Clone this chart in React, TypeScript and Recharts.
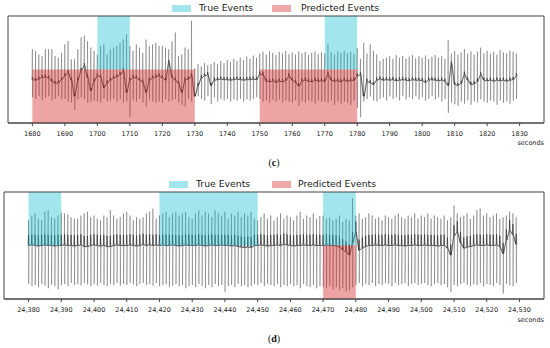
import { ComposedChart, Line, XAxis, YAxis, ReferenceArea } from 'recharts';

// panel (c): one beat per second starting at 1680
const startC = 1680;
const hiC = [
  0.38, 0.35, 0.28, 0.25, 0.38, 0.38, 0.38, 0.25, 0.22, 0.31,
  0.47, 0.53, 0.19, 0.19, 0.38, 0.6, 0.63, 0.53, 0.41, 0.35,
  0.28, 0.44, 0.47, 0.28, 0.38, 0.41, 0.44, 0.5, 0.56, 0.66,
  0.44, 0.35, 0.47, 0.41, 0.31, 0.56, 0.44, 0.47, 0.5, 0.44,
  0.44, 0.41, 0.38, 0.53, 0.69, 0.25, 0.28, 0.41, 0.38, 0.91,
  0.02, 0.1, 0.06, 0.12, 0.08, 0.1, 0.14, 0.1, 0.16, 0.12,
  0.18, 0.14, 0.2, 0.16, 0.22, 0.18, 0.24, 0.2, 0.26, 0.22,
  0.3, 0.33, 0.28, 0.34, 0.31, 0.27, 0.33, 0.3, 0.35, 0.29,
  0.32, 0.28, 0.34, 0.3, 0.33, 0.27, 0.31, 0.34, 0.29, 0.32,
  0.3, 0.48, 0.33, 0.28, 0.34, 0.31, 0.35, 0.3, 0.33, 0.29,
  0.4, 0.2, 0.5, 0.3, 0.47, 0.35, 0.28, 0.16, 0.2, 0.22,
  0.25, 0.2, 0.27, 0.22, 0.25, 0.2, 0.24, 0.27, 0.21, 0.25,
  0.22, 0.26, 0.2, 0.24, 0.27, 0.22, 0.25, 0.2, 0.55, 0.3,
  0.35, 0.28, 0.32, 0.38, 0.3, 0.34, 0.28, 0.33, 0.41, 0.3,
  0.35, 0.3, 0.33, 0.28, 0.36, 0.32, 0.3, 0.35, 0.33, 0.3,
];
const loC = [
  -0.52, -0.55, -0.5, -0.57, -0.53, -0.5, -0.58, -0.55, -0.5, -0.56,
  -0.55, -0.6, -0.62, -0.76, -0.55, -0.52, -0.56, -0.62, -0.6, -0.58,
  -0.6, -0.62, -0.55, -0.6, -0.58, -0.55, -0.6, -0.56, -0.62, -0.6,
  -0.89, -0.58, -0.6, -0.55, -0.62, -0.7, -0.56, -0.6, -0.62, -0.6,
  -0.62, -0.56, -0.6, -0.58, -0.55, -0.62, -0.66, -0.7, -0.55, -0.6,
  -0.45, -0.5, -0.55, -0.58, -0.5, -0.65, -0.52, -0.6, -0.55, -0.58,
  -0.55, -0.6, -0.56, -0.58, -0.55, -0.6, -0.56, -0.58, -0.55, -0.52,
  -0.55, -0.6, -0.58, -0.62, -0.57, -0.6, -0.56, -0.62, -0.58, -0.6,
  -0.62, -0.58, -0.68, -0.6, -0.62, -0.58, -0.6, -0.64, -0.58, -0.6,
  -0.6, -0.62, -0.58, -0.66, -0.6, -0.64, -0.6, -0.62, -0.66, -0.58,
  -0.72, -0.89, -0.6, -0.55, -0.5, -0.58, -0.6, -0.55, -0.52, -0.58,
  -0.5, -0.55, -0.52, -0.58, -0.5, -0.56, -0.52, -0.55, -0.5, -0.56,
  -0.52, -0.58, -0.55, -0.5, -0.56, -0.52, -0.6, -0.55, -0.81, -0.62,
  -0.65, -0.68, -0.6, -0.64, -0.58, -0.66, -0.6, -0.62, -0.56, -0.6,
  -0.62, -0.58, -0.6, -0.66, -0.58, -0.62, -0.6, -0.64, -0.58, -0.55,
];
const baseC = [
  -0.19, -0.2, -0.18, -0.15, -0.14, -0.16, -0.22, -0.26, -0.25, -0.19,
  -0.12, -0.06, -0.2, -0.5, -0.2, -0.02, 0.07, -0.15, -0.4, -0.22,
  -0.12, -0.14, -0.34, -0.25, -0.2, -0.16, -0.14, -0.1, -0.03, -0.43,
  -0.2, -0.15, -0.16, -0.2, -0.24, -0.43, -0.2, -0.16, -0.14, -0.12,
  -0.16, -0.2, 0.13, -0.15, -0.2, -0.26, -0.43, -0.2, -0.18, -0.12,
  -0.5, -0.3, -0.16, -0.12, -0.1, -0.3, -0.2, -0.19, -0.18, -0.19,
  -0.19, -0.2, -0.19, -0.18, -0.19, -0.2, -0.19, -0.19, -0.18, -0.19,
  -0.09, -0.1, -0.22, -0.23, -0.22, -0.24, -0.22, -0.23, -0.21, -0.12,
  -0.2, -0.24, -0.31, -0.22, -0.2, -0.22, -0.23, -0.2, -0.22, -0.21,
  -0.22, -0.09, -0.2, -0.22, -0.21, -0.23, -0.2, -0.22, -0.21, -0.2,
  -0.12, -0.1, -0.5, -0.22, -0.25, -0.28, -0.2, -0.18, -0.2, -0.19,
  -0.2, -0.19, -0.21, -0.2, -0.19, -0.2, -0.21, -0.19, -0.2, -0.2,
  -0.21, -0.24, -0.2, -0.19, -0.2, -0.21, -0.2, -0.22, -0.3, 0.1,
  -0.28, -0.3, -0.26, -0.09, -0.2, -0.28, -0.27, -0.22, -0.1, -0.2,
  -0.21, -0.2, -0.22, -0.2, -0.21, -0.2, -0.22, -0.2, -0.19, -0.12,
];
const ticksC = [1680, 1690, 1700, 1710, 1720, 1730, 1740, 1750, 1760, 1770, 1780, 1790, 1800, 1810, 1820, 1830];
const trueC = [[1700, 1710], [1770, 1780]];
const predC = [[1680, 1730], [1750, 1780]];

// panel (d)
const startD = 24380;
const hiD = [
  0.47, 0.56, 0.6, 0.5, 0.47, 0.63, 0.66, 0.53, 0.5, 0.56,
  0.61, 0.6, 0.58, 0.53, 0.5, 0.5, 0.56, 0.6, 0.63, 0.53,
  0.56, 0.5, 0.47, 0.56, 0.53, 0.66, 0.56, 0.5, 0.53, 0.6,
  0.63, 0.56, 0.47, 0.53, 0.5, 0.53, 0.6, 0.63, 0.69, 0.5,
  0.56, 0.6, 0.63, 0.53, 0.6, 0.63, 0.56, 0.6, 0.63, 0.53,
  0.5, 0.6, 0.66, 0.56, 0.63, 0.6, 0.53, 0.66, 0.6, 0.56,
  0.63, 0.5, 0.6, 0.56, 0.63, 0.53, 0.6, 0.56, 0.63, 0.5,
  0.47, 0.53, 0.6, 0.5, 0.56, 0.47, 0.53, 0.6, 0.5, 0.56,
  0.53, 0.47, 0.56, 0.63, 0.5, 0.56, 0.53, 0.6, 0.5, 0.55,
  0.56, 0.5, 0.53, 0.47, 0.5, 0.56, 0.44, 0.5, 0.47, 0.88,
  0.56, 0.6, 0.5, 0.53, 0.6, 0.56, 0.5, 0.53, 0.47, 0.56,
  0.53, 0.5, 0.56, 0.6, 0.53, 0.5, 0.56, 0.53, 0.6, 0.5,
  0.56, 0.53, 0.6, 0.5, 0.56, 0.53, 0.5, 0.56, 0.47, 0.53,
  0.75, 0.6, 0.53, 0.56, 0.6, 0.5, 0.56, 0.66, 0.69, 0.56,
  0.6, 0.53, 0.56, 0.6, 0.5, 0.53, 0.56, 0.63, 0.6, 0.53,
];
const loD = [
  -0.72, -0.76, -0.74, -0.78, -0.72, -0.75, -0.8, -0.73, -0.76, -0.82,
  -0.74, -0.72, -0.76, -0.7, -0.74, -0.72, -0.75, -0.7, -0.73, -0.76,
  -0.72, -0.75, -0.7, -0.74, -0.76, -0.72, -0.74, -0.7, -0.75, -0.72,
  -0.74, -0.7, -0.73, -0.76, -0.72, -0.7, -0.74, -0.72, -0.75, -0.7,
  -0.76, -0.74, -0.72, -0.78, -0.75, -0.72, -0.76, -0.74, -0.8, -0.76,
  -0.74, -0.78, -0.72, -0.76, -0.8, -0.74, -0.78, -0.72, -0.76, -0.74,
  -0.87, -0.76, -0.74, -0.78, -0.72, -0.76, -0.74, -0.78, -0.76, -0.72,
  -0.74, -0.7, -0.76, -0.72, -0.74, -0.76, -0.72, -0.78, -0.74, -0.76,
  -0.72, -0.76, -0.74, -0.8, -0.72, -0.76, -0.78, -0.74, -0.8, -0.76,
  -0.78, -0.8, -0.76, -0.82, -0.78, -0.84, -0.8, -0.86, -0.84, -0.78,
  -0.74, -0.7, -0.76, -0.72, -0.74, -0.7, -0.76, -0.72, -0.74, -0.7,
  -0.72, -0.76, -0.7, -0.74, -0.72, -0.7, -0.76, -0.72, -0.7, -0.74,
  -0.72, -0.7, -0.74, -0.76, -0.72, -0.7, -0.74, -0.72, -0.78, -0.87,
  -0.74, -0.76, -0.72, -0.7, -0.74, -0.76, -0.72, -0.74, -0.7, -0.76,
  -0.72, -0.74, -0.76, -0.7, -0.74, -0.9, -0.72, -0.74, -0.76, -0.7,
];
const baseD = [
  0, 0.01, 0, -0.01, 0, 0.01, 0, 0, -0.01, 0,
  0, 0.01, 0, 0, -0.01, 0, 0.01, -0.02, -0.02, 0,
  0.01, 0, -0.01, 0, -0.02, -0.02, 0, 0.01, 0, 0,
  0, 0.01, 0, -0.01, 0, 0.02, 0, 0.01, 0, 0.01,
  0, 0.01, 0, 0, 0.01, 0, -0.01, 0, 0.01, 0,
  0, 0, 0.01, 0, -0.01, 0, 0.01, 0, 0, 0.01,
  0, 0, -0.01, 0, -0.02, -0.03, -0.04, -0.03, -0.04, 0,
  0, 0.01, 0, -0.01, 0, 0, 0.01, 0, 0.02, 0.01,
  0, -0.01, 0, 0, 0.01, 0, 0, 0.01, 0, 0,
  0, 0.01, 0, 0, -0.01, -0.03, -0.08, -0.12, -0.18, 0.05,
  0.25, -0.09, -0.05, -0.02, 0, 0, 0.01, 0, 0, 0.01,
  0, 0, 0.01, 0, 0, -0.01, 0, 0, 0.01, 0,
  0, 0.01, 0, 0, 0, -0.01, 0, 0, -0.05, -0.18,
  0.18, 0.25, 0.05, -0.05, -0.03, -0.02, 0, 0.01, 0, 0,
  0.01, 0, 0, 0.01, -0.02, -0.15, 0.1, 0.28, 0.2, 0.02,
];
const ticksD = [24380, 24390, 24400, 24410, 24420, 24430, 24440, 24450, 24460, 24470, 24480, 24490, 24500, 24510, 24520, 24530];
const trueD = [[24380, 24390], [24420, 24450], [24470, 24480]];
const predD = [[24470, 24480]];

const TRUE_COLOR = '#17becf';
const PRED_COLOR = '#d62728';
const FONT = '"DejaVu Sans", sans-serif';

interface Row {
  t: number;
  sig: number;
  dark: number | null;
}

// each beat: baseline, R peak, S trough, back to baseline
function buildTrace(start: number, hi: number[], lo: number[], base: number[], tip: number): Row[] {
  const rows: Row[] = [];
  hi.forEach((h, i) => {
    const t = start + i;
    const b = base[i];
    rows.push({ t: t - 0.1, sig: b, dark: b });
    rows.push({ t, sig: h, dark: b + tip });
    rows.push({ t: t + 0.05, sig: lo[i], dark: null });
    rows.push({ t: t + 0.15, sig: b, dark: b });
  });
  return rows;
}

const dataC = buildTrace(startC, hiC, loC, baseC, 0.05);
const dataD = buildTrace(startD, hiD, loD, baseD, 0.2);

function Legend({ top, x }: { top: number; x: number[] }) {
  const patch = (left: number, color: string) => (
    <div style={{ position: 'absolute', left, top: top - 3, width: 19, height: 7, background: color, opacity: 0.4 }} />
  );
  const text = (left: number, label: string) => (
    <div style={{ position: 'absolute', left, top: top - 6, fontSize: 9.3, lineHeight: '12px', color: '#222', fontFamily: FONT, whiteSpace: 'nowrap' }}>
      {label}
    </div>
  );
  return (
    <>
      {patch(x[0], TRUE_COLOR)}
      {text(x[1], 'True Events')}
      {patch(x[2], PRED_COLOR)}
      {text(x[3], 'Predicted Events')}
    </>
  );
}

interface PanelProps {
  top: number;
  left: number;
  data: Row[];
  domain: [number, number];
  ticks: number[];
  trueEvents: number[][];
  predEvents: number[][];
  format: (v: number) => string;
}

function Panel({ top, left, data, domain, ticks, trueEvents, predEvents, format }: PanelProps) {
  return (
    <div style={{ position: 'absolute', left: 0, top }}>
      <ComposedChart width={550} height={150} data={data} margin={{ top: 16, right: 6, bottom: 0, left }}>
        <XAxis
          dataKey="t"
          type="number"
          domain={domain}
          ticks={ticks}
          allowDataOverflow
          height={27}
          tickSize={3}
          tickMargin={5}
          tickFormatter={format}
          stroke="#444"
          tick={{ fontSize: 6.5, fill: '#222', fontFamily: FONT }}
        />
        <YAxis domain={[-1, 1]} hide allowDataOverflow />
        <Line dataKey="sig" stroke="#000" strokeOpacity={0.38} strokeWidth={0.7} dot={false} isAnimationActive={false} connectNulls />
        <Line dataKey="dark" stroke="#222" strokeOpacity={0.8} strokeWidth={0.7} dot={false} isAnimationActive={false} connectNulls />
        {trueEvents.map(([a, b], i) => (
          <ReferenceArea key={`t${i}`} x1={a} x2={b} y1={0} y2={1} fill={TRUE_COLOR} fillOpacity={0.4} stroke="none" zIndex={500} />
        ))}
        {predEvents.map(([a, b], i) => (
          <ReferenceArea key={`p${i}`} x1={a} x2={b} y1={-1} y2={0} fill={PRED_COLOR} fillOpacity={0.42} stroke="none" zIndex={500} />
        ))}
        {/* plot frame */}
        <ReferenceArea x1={domain[0]} x2={domain[1]} y1={-1} y2={1} fill="none" stroke="#444" strokeWidth={1} zIndex={600} />
      </ComposedChart>
    </div>
  );
}

const noteStyle = { position: 'absolute' as const, fontFamily: FONT, fontSize: 6.5, color: '#222', lineHeight: '8px' };
const capStyle = { position: 'absolute' as const, fontFamily: '"Liberation Serif", serif', fontSize: 10, color: '#111', width: 40, textAlign: 'center' as const, lineHeight: '12px' };

export default function App() {
  return (
    <div style={{ position: 'absolute', left: 0, top: 0, width: 550, height: 348, background: '#fff', overflow: 'hidden' }}>
      <Panel top={0} left={8} data={dataC} domain={[1672.5, 1837.5]} ticks={ticksC} trueEvents={trueC} predEvents={predC} format={(v) => String(v)} />
      <Legend top={8} x={[172, 199, 272, 301]} />
      <div style={{ ...noteStyle, right: 6, top: 139 }}>seconds</div>
      <div style={{ ...capStyle, left: 254, top: 157 }}>(<b>c</b>)</div>

      <Panel top={176} left={4} data={dataD} domain={[24372.5, 24537.5]} ticks={ticksD} trueEvents={trueD} predEvents={predD} format={(v) => v.toLocaleString('en-US')} />
      <Legend top={184} x={[169, 196, 272, 298]} />
      <div style={{ ...noteStyle, right: 6, top: 316 }}>seconds</div>
      <div style={{ ...capStyle, left: 254, top: 333 }}>(<b>d</b>)</div>
    </div>
  );
}
